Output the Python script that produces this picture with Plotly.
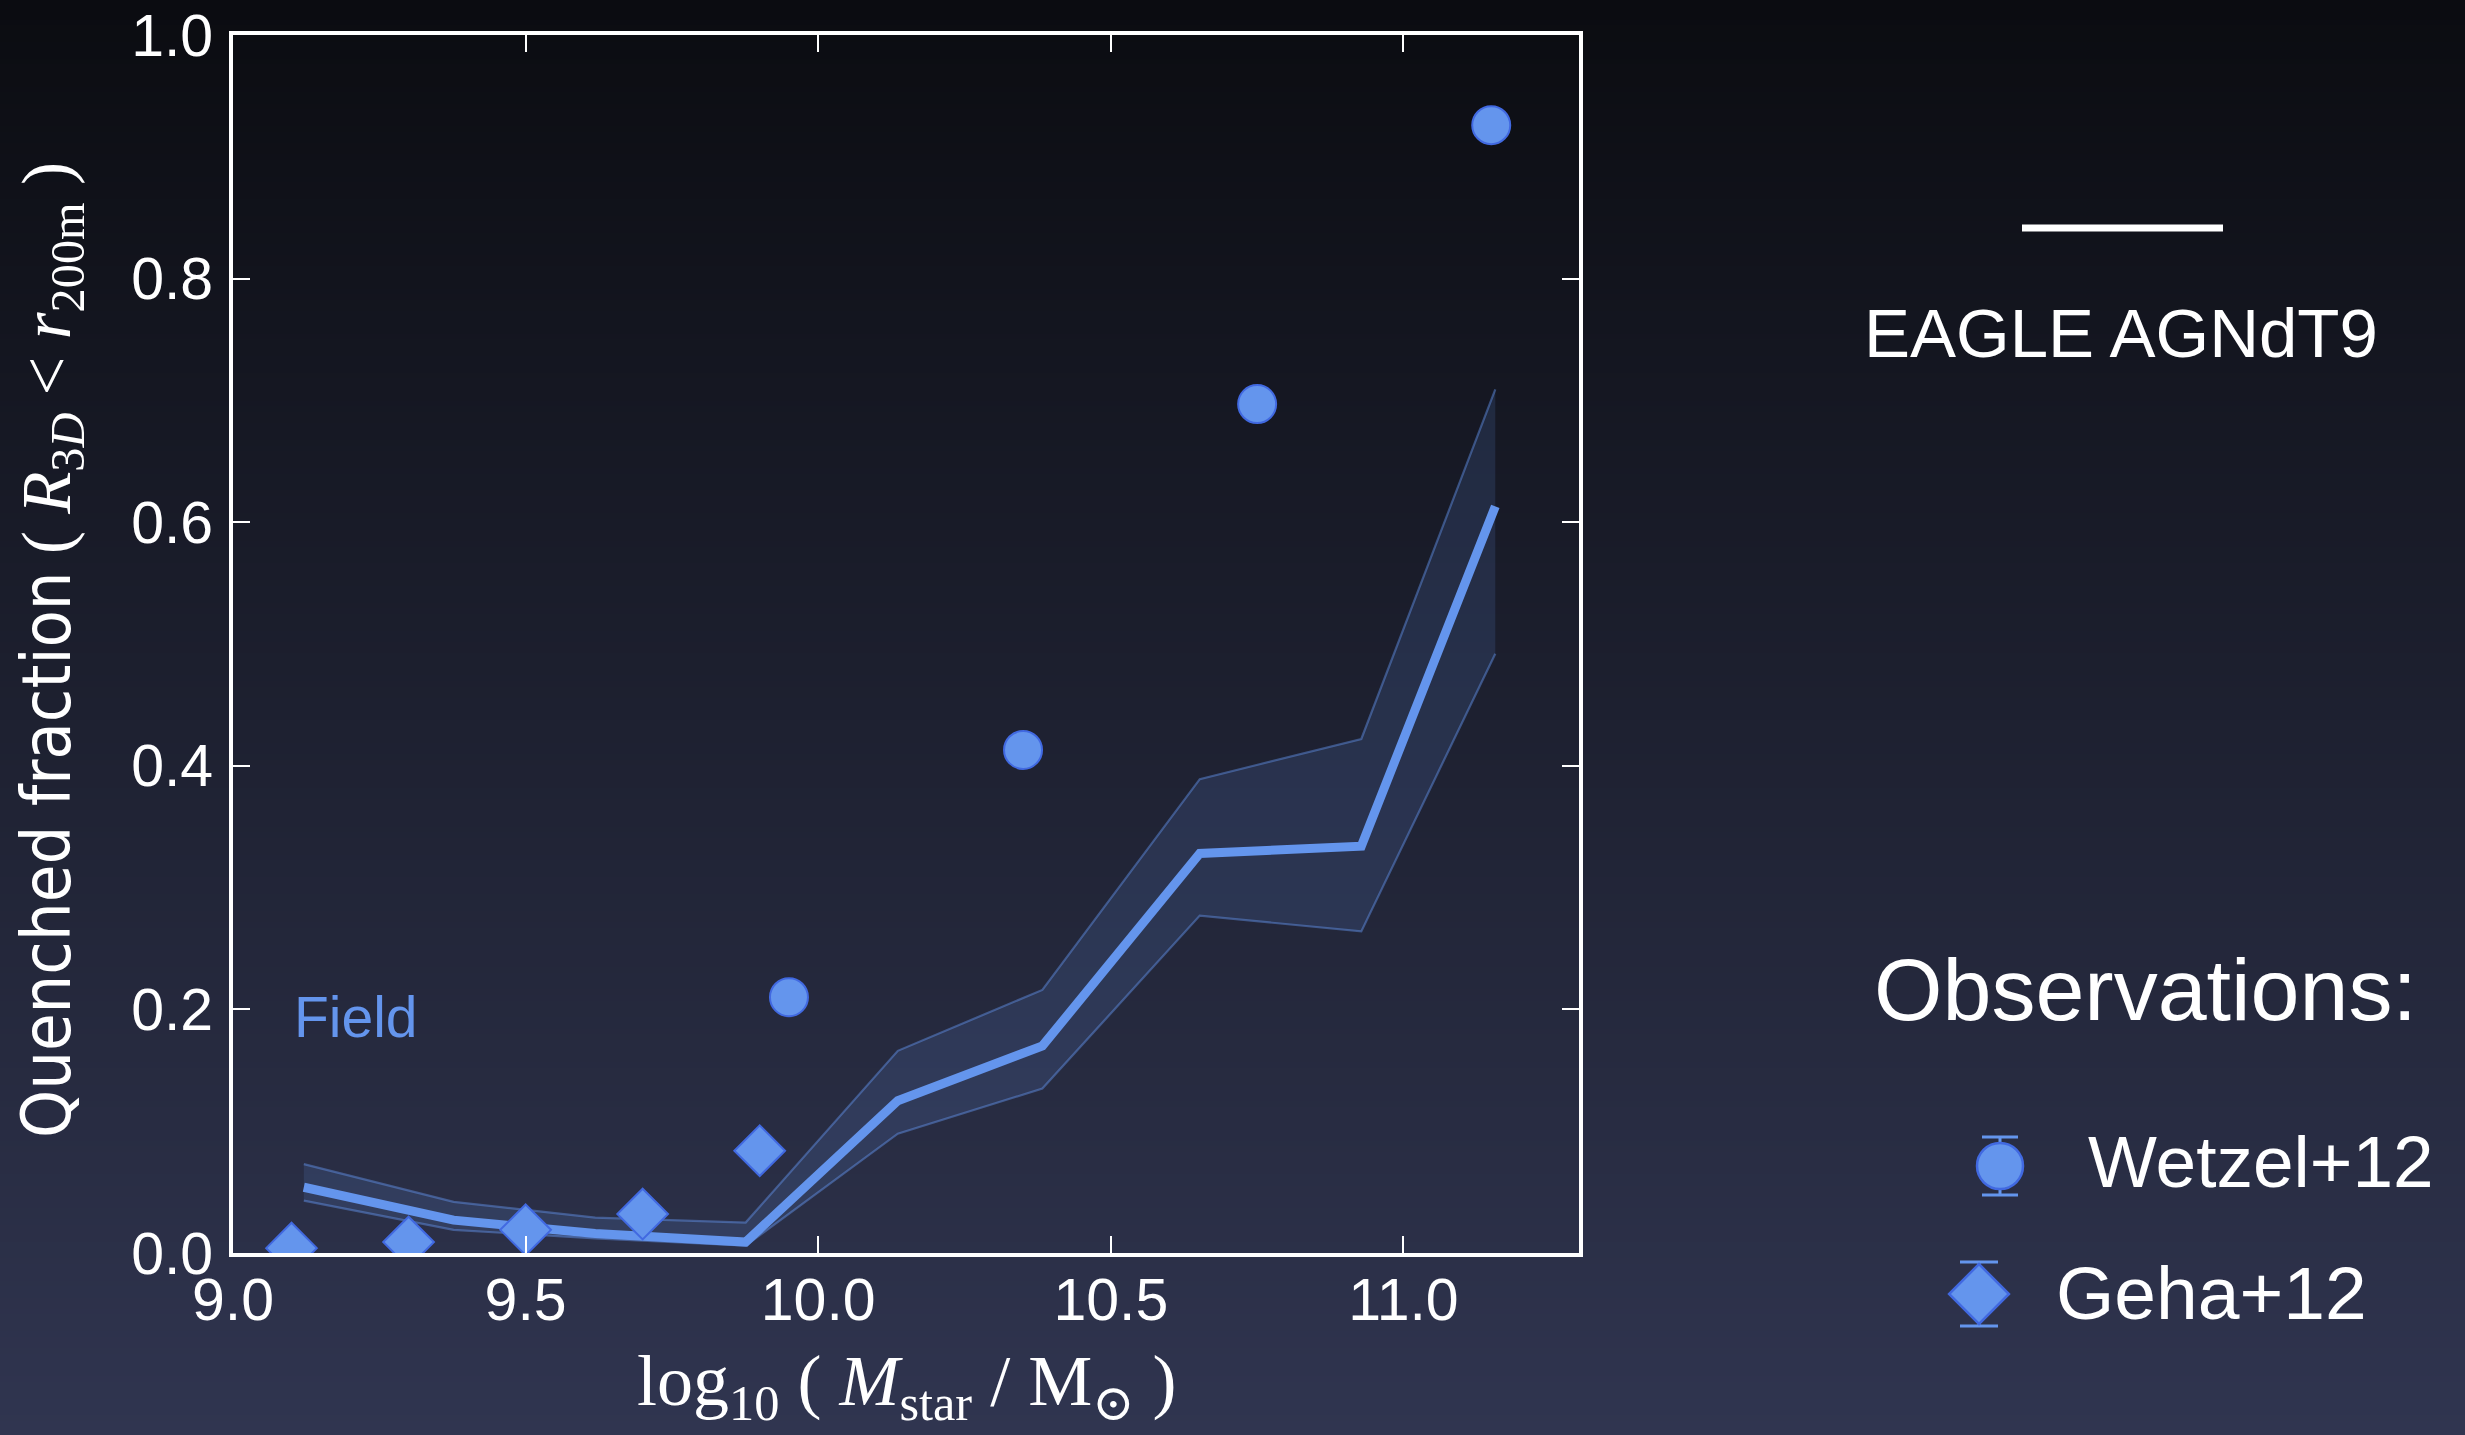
import base64
import struct
import zlib

import plotly.graph_objects as go

# ---------------------------------------------------------------------------
# Data: quenched fraction of field galaxies vs stellar mass
# ---------------------------------------------------------------------------
mass_bins = [9.121, 9.377, 9.619, 9.876, 10.136, 10.383, 10.652, 10.928, 11.157]
eagle_median = [0.054, 0.027, 0.016, 0.009, 0.125, 0.170, 0.328, 0.334, 0.613]
eagle_upper = [0.073, 0.042, 0.029, 0.025, 0.166, 0.216, 0.389, 0.422, 0.709]
eagle_lower = [0.043, 0.019, 0.012, 0.006, 0.098, 0.135, 0.277, 0.264, 0.492]

wetzel_mass = [9.95, 10.35, 10.75, 11.15]
wetzel_frac = [0.210, 0.413, 0.697, 0.926]

geha_mass = [9.1, 9.3, 9.5, 9.7, 9.9]
geha_frac = [0.004, 0.009, 0.019, 0.032, 0.084]

x_ticks = [9.0, 9.5, 10.0, 10.5, 11.0]
y_ticks = [0.0, 0.2, 0.4, 0.6, 0.8, 1.0]

# ---------------------------------------------------------------------------
# Page geometry and styling
# ---------------------------------------------------------------------------
W, H = 2465, 1435
FRAME_L, FRAME_R, FRAME_T, FRAME_B = 233, 1579, 35, 1253

BLUE = "#6495ED"
EDGE = "#4169E1"
SANS = "Liberation Sans, Arial, Helvetica, sans-serif"
SERIF = "Liberation Serif, Times New Roman, DejaVu Serif, serif"


def page_x(x):
    return x / W


def page_y(y):
    return 1 - y / H


def gradient_png(top, bottom, rows):
    """Vertical colour ramp encoded as a 1-pixel-wide PNG data URI."""
    raw = b"".join(
        b"\x00" + bytes(round(t + (b - t) * i / (rows - 1)) for t, b in zip(top, bottom))
        for i in range(rows)
    )

    def chunk(tag, data):
        return (struct.pack(">I", len(data)) + tag + data
                + struct.pack(">I", zlib.crc32(tag + data) & 0xFFFFFFFF))

    png = (b"\x89PNG\r\n\x1a\n"
           + chunk(b"IHDR", struct.pack(">IIBBBBB", 1, rows, 8, 2, 0, 0, 0))
           + chunk(b"IDAT", zlib.compress(raw, 9))
           + chunk(b"IEND", b""))
    return "data:image/png;base64," + base64.b64encode(png).decode()


fig = go.Figure()

# EAGLE scatter band (16th-84th percentiles) and median
fig.add_trace(go.Scatter(
    x=mass_bins, y=eagle_upper, mode="lines",
    line=dict(color="rgba(100,149,237,0.45)", width=2.2),
    hoverinfo="skip", showlegend=False))
fig.add_trace(go.Scatter(
    x=mass_bins, y=eagle_lower, mode="lines", fill="tonexty",
    fillcolor="rgba(100,149,237,0.15)",
    line=dict(color="rgba(100,149,237,0.45)", width=2.2),
    hoverinfo="skip", showlegend=False))
fig.add_trace(go.Scatter(
    x=mass_bins, y=eagle_median, mode="lines",
    line=dict(color=BLUE, width=9), showlegend=False))

# Observational points
fig.add_trace(go.Scatter(
    x=geha_mass, y=geha_frac, mode="markers", name="Geha+12",
    marker=dict(symbol="diamond", size=39, color=BLUE,
                line=dict(color=EDGE, width=2)),
    showlegend=False))
fig.add_trace(go.Scatter(
    x=wetzel_mass, y=wetzel_frac, mode="markers", name="Wetzel+12",
    marker=dict(symbol="circle", size=38, color=BLUE,
                line=dict(color=EDGE, width=2)),
    showlegend=False))

# Hand-drawn legend on a pixel-mapped overlay subplot
fig.add_trace(go.Scatter(
    x=[2022, 2223], y=[228, 228], mode="lines",
    line=dict(color="white", width=7),
    xaxis="x2", yaxis="y2", hoverinfo="skip", showlegend=False))
fig.add_trace(go.Scatter(
    x=[2000], y=[1166], mode="markers",
    marker=dict(symbol="circle", size=46, color=BLUE,
                line=dict(color=EDGE, width=2.5)),
    error_y=dict(type="data", array=[29], symmetric=True,
                 color=BLUE, thickness=3, width=18),
    xaxis="x2", yaxis="y2", hoverinfo="skip", showlegend=False))
fig.add_trace(go.Scatter(
    x=[1979], y=[1294], mode="markers",
    marker=dict(symbol="diamond", size=46, color=BLUE,
                line=dict(color=EDGE, width=2.5)),
    error_y=dict(type="data", array=[32], symmetric=True,
                 color=BLUE, thickness=3, width=19),
    xaxis="x2", yaxis="y2", hoverinfo="skip", showlegend=False))

axis_common = dict(
    showline=True, linewidth=4, linecolor="white", mirror="ticks",
    ticks="inside", ticklen=17, tickwidth=2, tickcolor="white",
    showgrid=False, zeroline=False, automargin=False,
    tickfont=dict(family=SANS, size=59, color="white"),
)

fig.update_layout(
    width=W, height=H, autosize=False,
    margin=dict(l=0, r=0, t=0, b=0, pad=0, autoexpand=False),
    paper_bgcolor="#0b0c11",
    plot_bgcolor="rgba(0,0,0,0)",
    showlegend=False,
    xaxis=dict(
        domain=[page_x(FRAME_L), page_x(FRAME_R)],
        range=[9.0, 11.3],
        tickvals=x_ticks, ticktext=[f"{v:.1f}" for v in x_ticks],
        ticklabelstandoff=-8,
        **axis_common),
    yaxis=dict(
        domain=[page_y(FRAME_B), page_y(FRAME_T)],
        range=[0.0, 1.0],
        tickvals=y_ticks, ticktext=[f"{v:.1f}" for v in y_ticks],
        ticklabelstandoff=4,
        **axis_common),
    xaxis2=dict(domain=[0, 1], range=[0, W], anchor="y2", visible=False,
                fixedrange=True, automargin=False),
    yaxis2=dict(domain=[0, 1], range=[H, 0], anchor="x2", visible=False,
                fixedrange=True, automargin=False),
    images=[dict(
        source=gradient_png((11, 12, 17), (48, 53, 80), 256),
        xref="paper", yref="paper", x=0, y=1, sizex=1, sizey=1,
        xanchor="left", yanchor="top", sizing="stretch", layer="below")],
)

annotations = [
    # axis titles
    dict(x=page_x((FRAME_L + FRAME_R) / 2), y=page_y(1386),
         text="log<sub>10</sub> ( <i>M</i><sub>star</sub> / M<sub>⊙</sub> )",
         font=dict(family=SERIF, size=72, color="white"),
         xanchor="center", yanchor="middle"),
    dict(x=page_x(50), y=page_y((FRAME_T + FRAME_B) / 2 + 6),
         text=("<span style=\"font-family:'Liberation Sans Narrow','DejaVu Sans Condensed',"
               "'Liberation Sans',sans-serif;font-size:68px\">Quenched fraction</span>"
               " ( <i>R</i><sub>3<i>D</i></sub> &lt; <i>r</i><sub>200m</sub> )"),
         font=dict(family=SERIF, size=69, color="white"),
         textangle=-90, xanchor="center", yanchor="middle"),
    # in-panel label
    dict(x=page_x(292), y=page_y(1017), text="Field",
         font=dict(family=SANS, size=57, color=BLUE),
         xanchor="left", yanchor="middle"),
    # legend text
    dict(x=page_x(2121), y=page_y(334), text="EAGLE AGNdT9",
         font=dict(family=SANS, size=69, color="white"),
         xanchor="center", yanchor="middle"),
    dict(x=page_x(2145), y=page_y(989), text="Observations:",
         font=dict(family=SANS, size=88, color="white"),
         xanchor="center", yanchor="middle"),
    dict(x=page_x(2086), y=page_y(1161), text="Wetzel+12",
         font=dict(family=SANS, size=73, color="white"),
         xanchor="left", yanchor="middle"),
    dict(x=page_x(2054), y=page_y(1293), text="Geha+12",
         font=dict(family=SANS, size=75, color="white"),
         xanchor="left", yanchor="middle"),
]
for a in annotations:
    a.update(xref="paper", yref="paper", showarrow=False)
fig.update_layout(annotations=annotations)

fig.write_html("out.html")
